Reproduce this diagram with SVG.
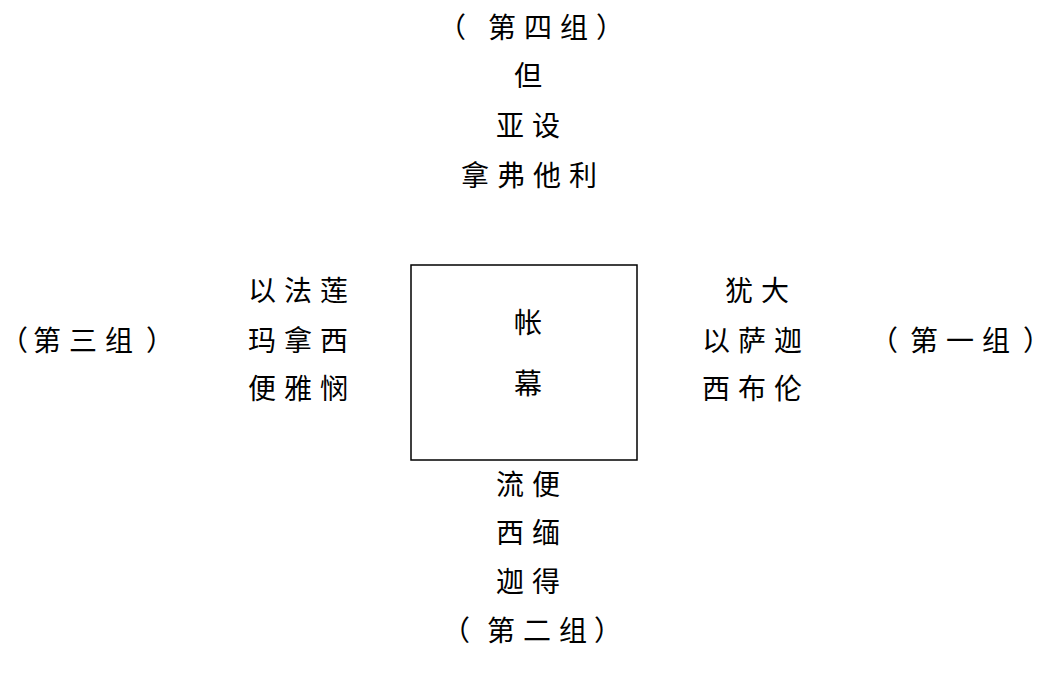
<svg xmlns="http://www.w3.org/2000/svg" width="1052" height="691" viewBox="0 0 1052 691">
<style>
text{font-family:"Noto Sans CJK SC","Noto Sans CJK TC",sans-serif;font-size:28px;fill:#000;letter-spacing:8px}
.c{text-anchor:middle}
.p{letter-spacing:0}
.box{fill:#fff;stroke:#000;stroke-width:1.5}
</style>
<rect width="1052" height="691" fill="#fff"/>
<g id="tabernacle">
<rect class="box" x="411" y="265" width="226" height="195"/>
<text class="c" x="532" y="333">帐</text>
<text class="c" x="532" y="394">幕</text>
</g>
<g id="group4">
<text class="p" x="438 468 488 524 560 596" y="38">（ 第四组）</text>
<text class="c" x="532" y="86">但</text>
<text class="c" x="532" y="136">亚设</text>
<text class="c" x="533" y="186">拿弗他利</text>
</g>
<g id="group3">
<text class="p" x="0 33 69 105 146" y="351">（第三组）</text>
<text class="c" x="302" y="301">以法莲</text>
<text class="c" x="302" y="351">玛拿西</text>
<text class="c" x="302" y="399">便雅悯</text>
</g>
<g id="group1">
<text class="p" x="870 910 946 982 1023" y="351">（第一组）</text>
<text class="c" x="761" y="301">犹大</text>
<text class="c" x="756" y="351">以萨迦</text>
<text class="c" x="756" y="399">西布伦</text>
</g>
<g id="group2">
<text class="c" x="532" y="495">流便</text>
<text class="c" x="532" y="543">西缅</text>
<text class="c" x="532" y="592">迦得</text>
<text class="p" x="442 487 523 559 594" y="641">（第二组）</text>
</g>
<g id="connectors"></g>
</svg>
